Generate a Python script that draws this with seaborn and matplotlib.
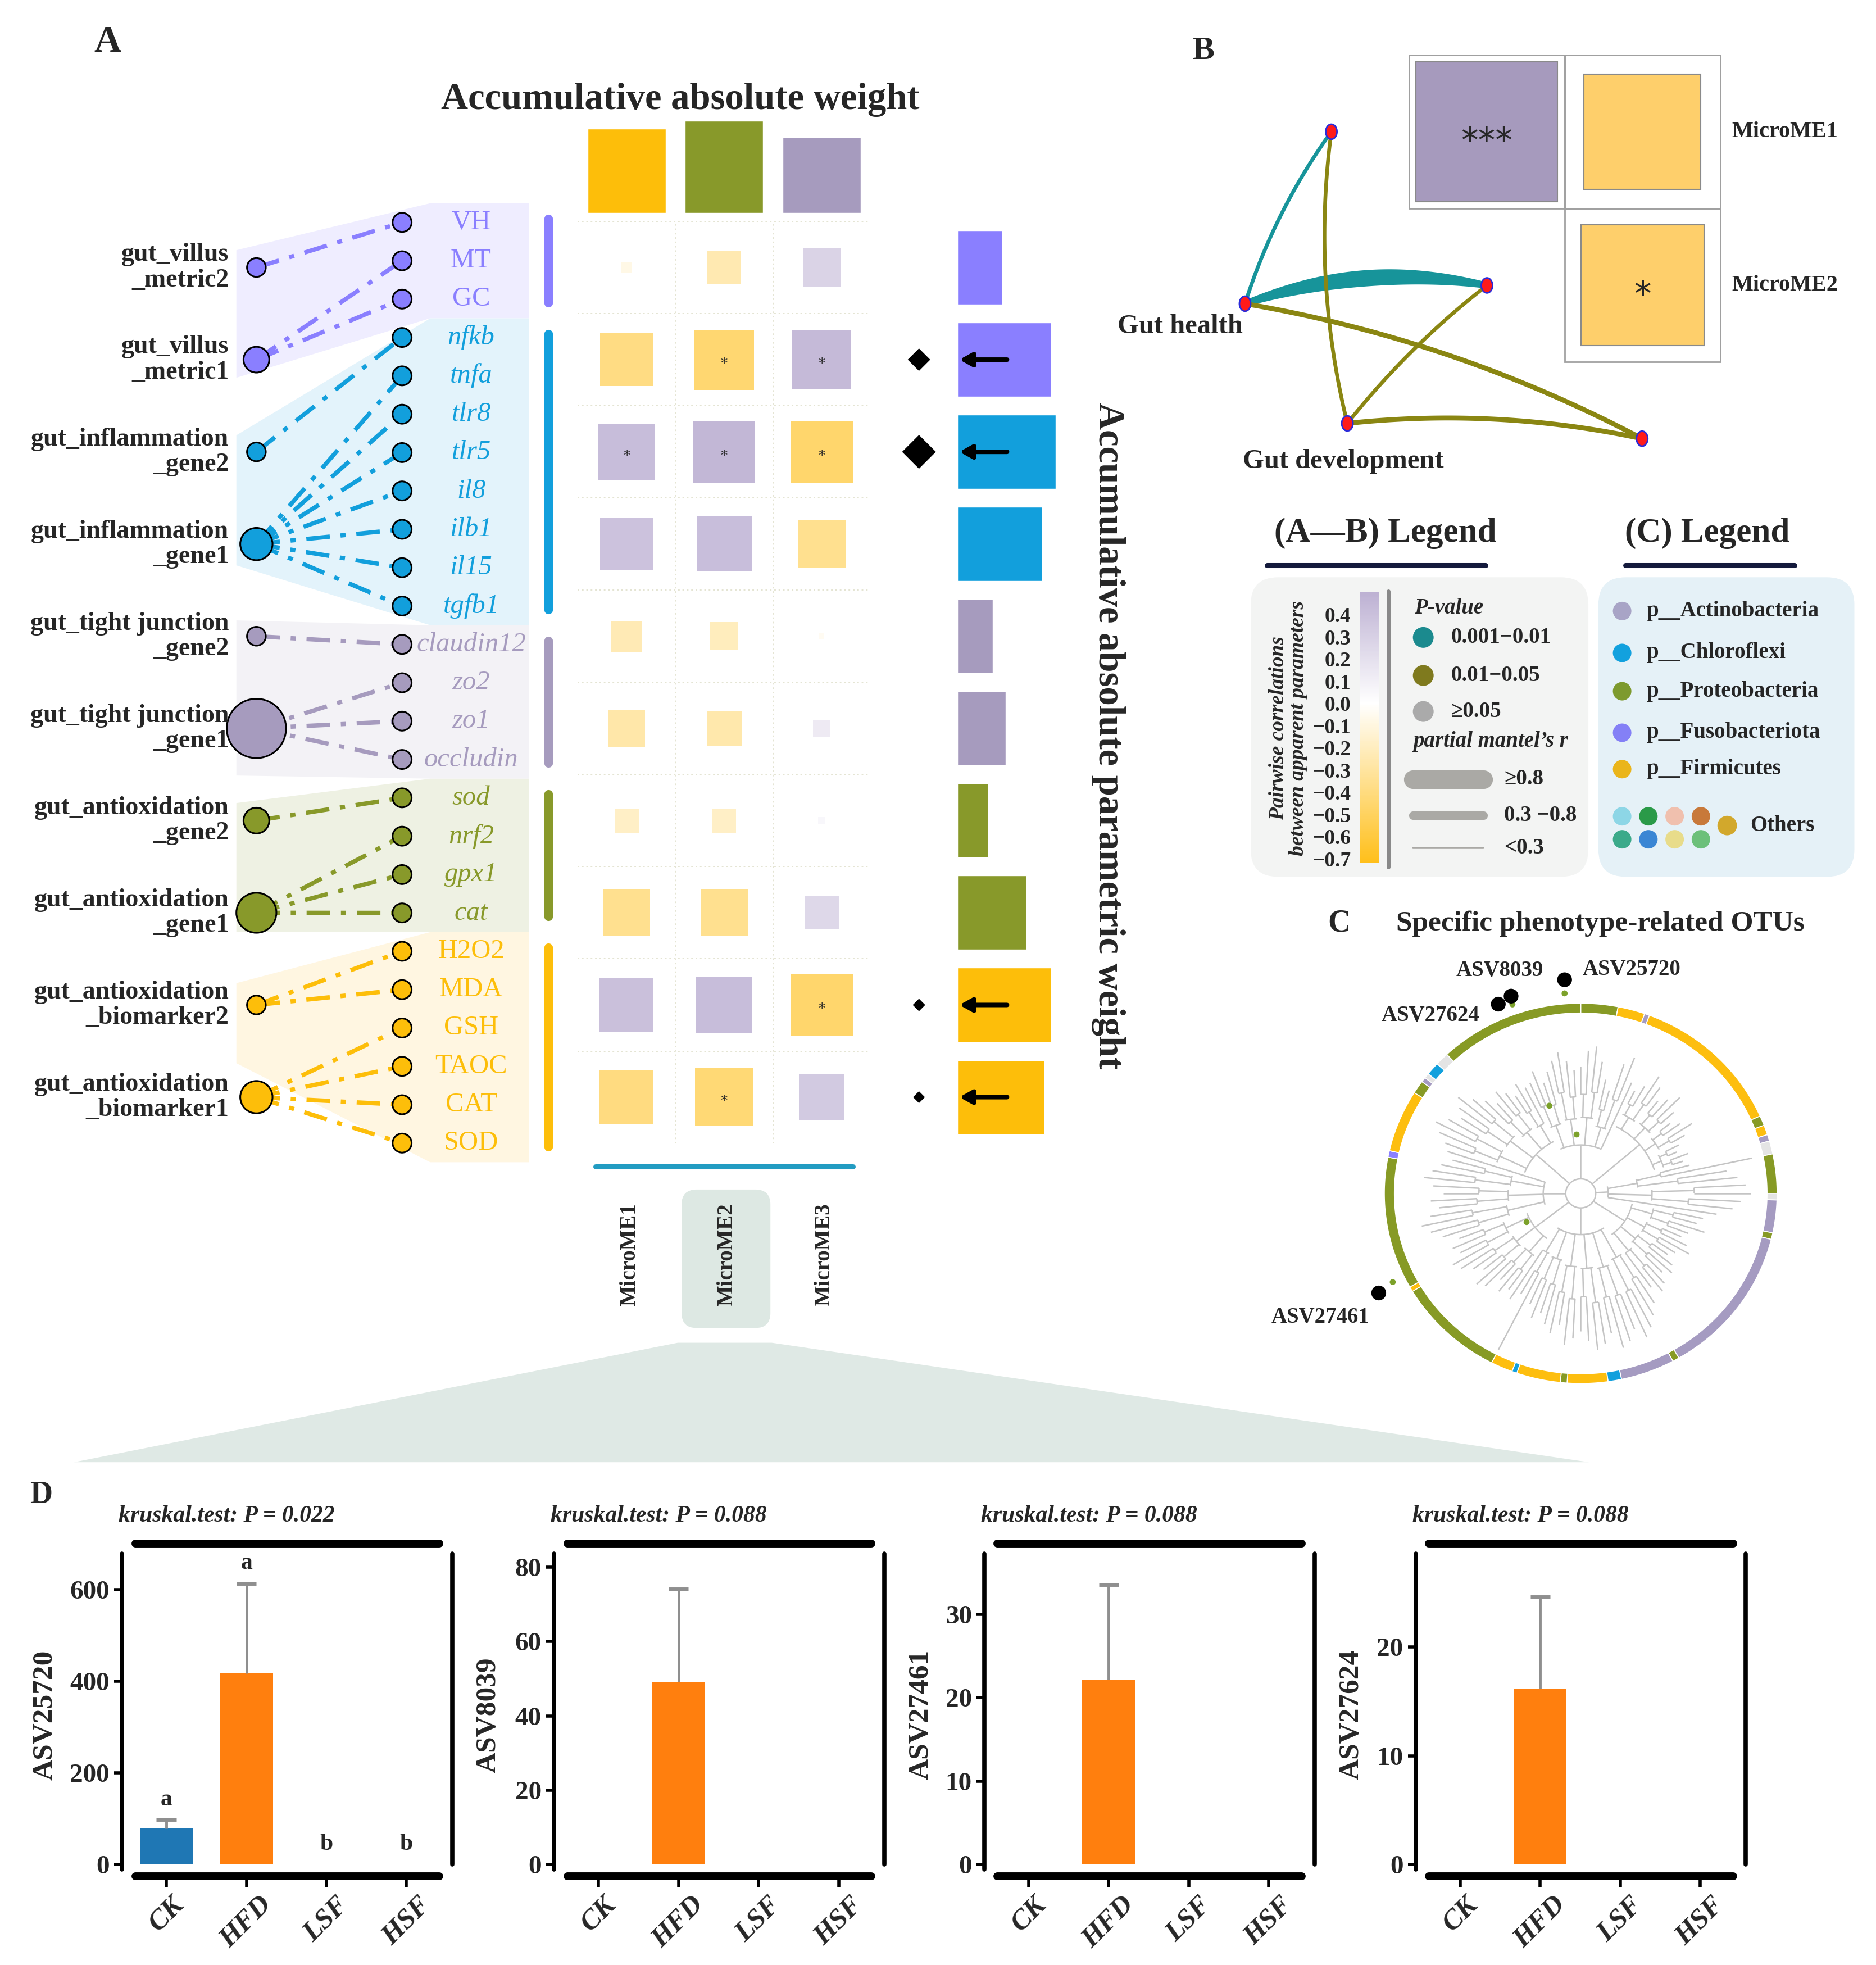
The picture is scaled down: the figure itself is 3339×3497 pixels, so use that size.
import matplotlib
matplotlib.use("Agg")
import matplotlib.pyplot as plt
import numpy as np
import seaborn as sns
from matplotlib.cm import ScalarMappable
from matplotlib.collections import LineCollection
from matplotlib.colors import LinearSegmentedColormap, Normalize
from matplotlib.patches import Circle, Ellipse, FancyBboxPatch, Polygon, Rectangle

# ---------------- panel A data ----------------
left_labels = [
    "gut_villus\n_metric2", "gut_villus\n_metric1",
    "gut_inflammation\n_gene2", "gut_inflammation\n_gene1",
    "gut_tight junction\n_gene2", "gut_tight junction\n_gene1",
    "gut_antioxidation\n_gene2", "gut_antioxidation\n_gene1",
    "gut_antioxidation\n_biomarker2", "gut_antioxidation\n_biomarker1",
]
left_node_weight = [0.75, 1.03, 0.75, 1.29, 0.75, 2.37, 1.03, 1.60, 0.75, 1.29]

parameters = ["VH", "MT", "GC",
              "nfkb", "tnfa", "tlr8", "tlr5", "il8", "ilb1", "il15", "tgfb1",
              "claudin12", "zo2", "zo1", "occludin",
              "sod", "nrf2", "gpx1", "cat",
              "H2O2", "MDA", "GSH", "TAOC", "CAT", "SOD"]
italic_parameters = {"nfkb", "tnfa", "tlr8", "tlr5", "il8", "ilb1", "il15", "tgfb1",
                     "claudin12", "zo2", "zo1", "occludin", "sod", "nrf2", "gpx1", "cat"}
parameter_links = [
    ["VH"], ["MT", "GC"],
    ["nfkb"], ["tnfa", "tlr8", "tlr5", "il8", "ilb1", "il15", "tgfb1"],
    ["claudin12"], ["zo2", "zo1", "occludin"],
    ["sod"], ["nrf2", "gpx1", "cat"],
    ["H2O2", "MDA"], ["GSH", "TAOC", "CAT", "SOD"],
]
group_colors = ["#8A7FFF", "#129FDC", "#A69BBE", "#88992A", "#FDBE0A"]
group_shades = ["#EFEDFF", "#E3F3FB", "#F3F2F6", "#EEF1E3", "#FFF6E1"]

modules = ["MicroME1", "MicroME2", "MicroME3"]
me_corr = [
    [-0.08, -0.245, 0.28],
    [-0.39, -0.445, 0.44],
    [0.42, 0.46, -0.46],
    [0.39, 0.41, -0.35],
    [-0.23, -0.21, -0.04],
    [-0.27, -0.26, 0.13],
    [-0.18, -0.18, 0.05],
    [-0.35, -0.35, 0.25],
    [0.40, 0.42, -0.46],
    [-0.40, -0.43, 0.34],
]
me_sig = [
    ["", "", ""], ["", "*", "*"], ["*", "*", "*"], ["", "", ""], ["", "", ""],
    ["", "", ""], ["", "", ""], ["", "", ""], ["", "", "*"], ["", "*", ""],
]
module_weight = [6.74, 7.38, 6.10]
module_colors = ["#FDBE0A", "#88992A", "#A69BBE"]
row_weight = [3.56, 7.50, 7.82, 6.77, 2.83, 3.85, 2.45, 5.51, 7.47, 6.93]
row_mark = [0, 1.8, 2.7, 0, 0, 0, 0, 0, 1.0, 0.95]

cbar_ticks = [0.4, 0.3, 0.2, 0.1, 0.0, -0.1, -0.2, -0.3, -0.4, -0.5, -0.6, -0.7]

# ---------------- panel B data ----------------
b_node_xy = [(1064.5, 105.3), (995.5, 242.8), (1188.9, 228.2), (1077.3, 338.5), (1313.0, 350.7)]
b_edges = [  # (from, to, p-class, width class, bend)
    (1, 0, "0.001-0.01", "<0.3", 0.04),
    (1, 2, "0.001-0.01", ">=0.8", 0.067),
    (0, 3, "0.01-0.05", "<0.3", -0.047),
    (1, 4, "0.01-0.05", "0.3-0.8", 0.04),
    (2, 3, "0.01-0.05", "<0.3", -0.03),
    (3, 4, "0.01-0.05", "0.3-0.8", 0.04),
]
b_rows = ["MicroME1", "MicroME2"]
b_values = [[0.91, -0.75], [np.nan, -0.79]]
b_stars = [["***", ""], ["", "*"]]

# ---------------- panel C data ----------------
phyla = ["p__Actinobacteria", "p__Chloroflexi", "p__Proteobacteria", "p__Fusobacteriota", "p__Firmicutes"]
phyla_colors = ["#A8A4C6", "#12A1DE", "#7D9A2E", "#8480F6", "#EAB51B"]
other_colors = ["#8DD6E6", "#2A9A48", "#F0C0AE", "#C8793A", "#3BAA8A", "#3A86D4", "#E8DC8A", "#6CC07A"]
ring_start = [0, 11, 19, 20.5, 66, 69, 72, 74, 78, 90, 92, 102, 104, 150, 152, 168,
              172, 184, 186, 199, 200.5, 207, 239, 240.5, 281, 283, 302, 306, 307.5, 309, 313, 317]
ring_phylum = ["P", "F", "A", "F", "P", "F", "A", "O", "P", "O", "A", "P", "A", "P", "A", "C",
               "F", "P", "F", "C", "F", "P", "F", "P", "Fu", "F", "P", "A", "O", "C", "O", "P"]
ring_colors = {"A": "#A59BC1", "C": "#12A0DD", "P": "#879A25", "Fu": "#8A80FF", "F": "#FDBE0F", "O": "#E4E4E4"}
tree_tip_radius = [
    105, 118, 122, 110, 96, 88, 112, 120, 100,
    95, 102, 115, 108, 98, 104, 112, 100, 92, 98, 106, 96, 88, 84, 92, 86,
    90, 140, 118, 126, 132, 136, 128, 122, 110,
    100, 96, 104, 92, 88, 95, 100, 90, 86, 94, 98, 92, 100, 104, 96,
    108, 116, 124, 130, 120, 128, 132, 118, 126, 130, 122, 114, 120, 126, 110, 118, 112, 104, 110, 100, 145, 96, 104,
    98, 104, 96, 108, 112, 100, 106, 114, 118, 108, 112, 104,
    116, 124, 130, 122, 114, 120, 110, 118, 126, 120, 114, 106, 112,
    116, 124, 130, 122, 114, 120, 126, 116, 108, 100, 108, 102, 96, 104, 98,
    100, 108, 96, 104, 112, 118, 110, 102,
]
tree_clades = [(112, 17, 40), (9, 16, 62), (25, 9, 22), (34, 15, 42),
               (49, 23, 34), (72, 12, 46), (84, 13, 30), (97, 15, 48)]
asv_marks = ["ASV25720", "ASV8039", "ASV27624", "ASV27461"]

# ---------------- panel D data ----------------
groups = ["CK", "HFD", "LSF", "HSF"]
asv_names = ["ASV25720", "ASV8039", "ASV27461", "ASV27624"]
asv_mean = [[78, 417, 0, 0], [0, 49.2, 0, 0], [0, 22.2, 0, 0], [0, 16.2, 0, 0]]
asv_sd = [[20, 197, 0, 0], [0, 24.9, 0, 0], [0, 11.4, 0, 0], [0, 8.4, 0, 0]]
asv_p = ["0.022", "0.088", "0.088", "0.088"]
asv_letters = [["a", "a", "b", "b"], None, None, None]
asv_ytop = [679, 83.7, 37.3, 28.6]
asv_yticks = [[0, 200, 400, 600], [0, 20, 40, 60, 80], [0, 10, 20, 30], [0, 10, 20]]

# ---------------- figure ----------------
sns.set_theme(style="white")
plt.rcParams["font.family"] = ["Liberation Serif", "DejaVu Serif"]
plt.rcParams["axes.unicode_minus"] = True

W_PX, H_PX = 3339, 3497
SCALE = W_PX / 1500.0
XMAX, YMAX = 1500.0, H_PX / SCALE

fig = plt.figure(figsize=(W_PX / 100, H_PX / 100), dpi=100, facecolor="white")
base = fig.add_axes([0, 0, 1, 1])
base.set_xlim(0, XMAX)
base.set_ylim(YMAX, 0)
base.axis("off")


def inset(x0, y0, x1, y1):
    ax = fig.add_axes([x0 / XMAX, 1 - y1 / YMAX, (x1 - x0) / XMAX, (y1 - y0) / YMAX])
    ax.set_facecolor("none")
    return ax


def bezier(p0, p1, bend, n=80):
    p0, p1 = np.asarray(p0, float), np.asarray(p1, float)
    d = p1 - p0
    length = np.hypot(*d)
    nrm = np.array([d[1], -d[0]]) / length
    ctrl = (p0 + p1) / 2 + 2 * bend * length * nrm
    t = np.linspace(0, 1, n)[:, None]
    return (1 - t) ** 2 * p0 + 2 * (1 - t) * t * ctrl + t ** 2 * p1


BOLD = dict(fontweight="bold")

# ======== panel A ========
base.text(86, 34, "A", fontsize=48, ha="center", va="center", **BOLD)
base.text(544, 87, "Accumulative absolute weight", fontsize=48, ha="center", va="baseline", **BOLD)

ROW_TOP, ROW_H = 177.0, 73.7
row_y = ROW_TOP + (np.arange(len(left_labels)) + 0.5) * ROW_H
par_y = 177.8 + np.arange(len(parameters)) * 30.67
par_index = {p: i for i, p in enumerate(parameters)}
row_group = np.arange(len(left_labels)) // 2
par_group = {}
for r, names in enumerate(parameter_links):
    for n in names:
        par_group[n] = row_group[r]

left_span = [(200, 302), (348, 452), (496, 620), (642, 745), (786, 850)]
for g in range(5):
    members = [par_index[p] for p in parameters if par_group[p] == g]
    y0, y1 = par_y[min(members)] - 15.3, par_y[max(members)] + 15.3
    l0, l1 = left_span[g]
    base.add_patch(Polygon([(189, l0), (344, y0), (423, y0), (423, y1), (344, y1), (189, l1)],
                           closed=True, fc=group_shades[g], ec="none", zorder=1))
    base.plot([438.4, 438.4], [par_y[min(members)] - 3, par_y[max(members)] + 3],
              color=group_colors[g], lw=11, solid_capstyle="round", zorder=2)

for r, names in enumerate(parameter_links):
    col = group_colors[row_group[r]]
    for n in names:
        base.plot([205, 321.5], [row_y[r], par_y[par_index[n]]], color=col, lw=5.5,
                  dashes=(5.5, 2.5, 1.2, 2.5), dash_capstyle="butt", zorder=2)
    base.add_patch(Circle((205, row_y[r]), left_node_weight[r] * 10, fc=col, ec="black", lw=2.2, zorder=3))
    base.text(183, row_y[r], left_labels[r], ha="right", va="center", multialignment="right",
              fontsize=33, linespacing=1.1, zorder=4, **BOLD)

for p in parameters:
    i = par_index[p]
    col = group_colors[par_group[p]]
    base.add_patch(Circle((321.5, par_y[i]), 7.6, fc=col, ec="black", lw=2.2, zorder=3))
    base.text(376.7, par_y[i], p, ha="center", va="center", fontsize=35, color=col,
              style="italic" if p in italic_parameters else "normal", zorder=4)

cmap = LinearSegmentedColormap.from_list(
    "corr", [(0.0, "#FFBF1A"), (0.72 / 1.22, "#FFFFFF"), (1.0, "#BDB1D3")])
norm = Normalize(-0.72, 0.5)

hm = inset(462, 177, 696, 914)
hm.set_xlim(0, 3)
hm.set_ylim(10, 0)
hm.axis("off")
for k in range(4):
    hm.axvline(k, color="#E4E4D2", lw=1.4, ls=(0, (1.5, 2.5)))
for k in range(11):
    hm.axhline(k, color="#E4E4D2", lw=1.4, ls=(0, (1.5, 2.5)))
CELL_W, CELL_H = 78.0, 73.7
for i in range(10):
    for j in range(3):
        r = me_corr[i][j]
        side = abs(r) * 108
        w, h = side / CELL_W, side / CELL_H
        hm.add_patch(Rectangle((j + 0.5 - w / 2, i + 0.5 - h / 2), w, h, fc=cmap(norm(r)), ec="none"))
        if me_sig[i][j]:
            hm.text(j + 0.5, i + 0.5 + 0.085, me_sig[i][j], ha="center", va="baseline",
                    fontsize=18, family="DejaVu Sans")

tb = inset(462, 90, 696, 170.4)
tb.set_xlim(0, 3)
tb.set_ylim(0, 8.04)
tb.axis("off")
tb.bar(np.arange(3) + 0.5, module_weight, width=0.8, color=module_colors)

rb = inset(765.7, 177, 865.7, 914)
rb.set_xlim(0, 10)
rb.set_ylim(10, 0)
rb.axis("off")
rb.barh(np.arange(10) + 0.5, row_weight, height=0.805, color=[group_colors[g] for g in row_group])
for i, m in enumerate(row_mark):
    if m > 0:
        rb.annotate("", xy=(0.15, i + 0.5), xytext=(3.95, i + 0.5),
                    arrowprops=dict(arrowstyle="-|>,head_length=0.8,head_width=0.45", color="black",
                                    lw=5.8, shrinkA=0, shrinkB=0, mutation_scale=16))
        d = m * 10 / 2
        base.add_patch(Polygon([(734.8, row_y[i] - d), (734.8 + d, row_y[i]), (734.8, row_y[i] + d),
                                (734.8 - d, row_y[i])], closed=True, fc="black", ec="none", zorder=3))

base.text(886, 588, "Accumulative absolute parametric weight", rotation=-90, fontsize=48,
          ha="center", va="center", **BOLD)

base.add_patch(FancyBboxPatch((545, 951), 71, 110.7, boxstyle="round,pad=0,rounding_size=12",
                              fc="#DDE8E3", ec="none", zorder=1))
for j, name in enumerate(modules):
    base.text(503.4 + j * 77.8, 1003, name, rotation=90, fontsize=28, ha="center", va="center",
              zorder=4, **BOLD)
base.plot([476, 682], [932.5, 932.5], color="#229CC2", lw=6.5, solid_capstyle="round", zorder=2)
base.add_patch(Polygon([(542, 1073.5), (617, 1073.5), (1270.4, 1169), (59.3, 1169)], closed=True,
                       fc="#DFE9E5", ec="none", zorder=1))

# ======== panel B ========
base.text(962, 41, "B", fontsize=42, ha="center", va="center", **BOLD)
p_color = {"0.001-0.01": "#17949A", "0.01-0.05": "#8A8612"}
w_class = {"<0.3": 4.8, "0.3-0.8": 6.3, ">=0.8": 0.0}
for a, b, pc, wc, bend in b_edges:
    pts = bezier(b_node_xy[a], b_node_xy[b], bend)
    if wc == ">=0.8":
        t = np.linspace(0, 1, len(pts))
        half = (5 + 8 * np.sin(np.pi * t)) / 2
        tang = np.gradient(pts, axis=0)
        tang /= np.hypot(tang[:, 0], tang[:, 1])[:, None]
        nrm = np.column_stack([-tang[:, 1], tang[:, 0]])
        shape = np.vstack([pts + nrm * half[:, None], (pts - nrm * half[:, None])[::-1]])
        base.add_patch(Polygon(shape, closed=True, fc=p_color[pc], ec="none", zorder=2))
    else:
        base.plot(pts[:, 0], pts[:, 1], color=p_color[pc], lw=w_class[wc], solid_capstyle="round", zorder=2)
for x, y in b_node_xy:
    base.add_patch(Ellipse((x, y), 9, 12, fc="#FF1A1A", ec="#2B2BD9", lw=2, zorder=3))
base.text(943.5, 261, "Gut health", fontsize=35, ha="center", va="center", **BOLD)
base.text(1073.8, 369, "Gut development", fontsize=35, ha="center", va="center", **BOLD)

B_X0, B_Y0, B_CW, B_CH = 1126.7, 43.9, 124.35, 122.7
for i in range(2):
    for j in range(2):
        v = b_values[i][j]
        if np.isnan(v):
            continue
        x0, y0 = B_X0 + j * B_CW, B_Y0 + i * B_CH
        base.add_patch(Rectangle((x0, y0), B_CW, B_CH, fc="none", ec="#A0A0A0", lw=2, zorder=2))
        sw, sh = abs(v) * B_CW, abs(v) * B_CH
        base.add_patch(Rectangle((x0 + (B_CW - sw) / 2, y0 + (B_CH - sh) / 2), sw, sh,
                                 fc="#A69ABD" if v > 0 else "#FECF6B", ec="#8A8A8A", lw=1.5, zorder=3))
        if b_stars[i][j]:
            base.text(x0 + B_CW / 2, y0 + B_CH / 2 + 16, b_stars[i][j], fontsize=44, ha="center",
                      va="baseline", family="DejaVu Sans", zorder=4)
for i, name in enumerate(b_rows):
    base.text(1384.7, B_Y0 + (i + 0.5) * B_CH, name, fontsize=29, ha="left", va="center", **BOLD)

# ======== legends ========
base.text(1107.6, 426.5, "(A\u2014B) Legend", fontsize=44, ha="center", va="center", **BOLD)
base.plot([1013, 1188], [451.8, 451.8], color="#141A3C", lw=6.5, solid_capstyle="round")
base.add_patch(FancyBboxPatch((1000, 461.5), 270, 239.5, boxstyle="round,pad=0,rounding_size=22",
                              fc="#F3F4F3", ec="none", zorder=1))
base.text(1030, 582, "Pairwise correlations\nbetween apparent parameters", rotation=90, fontsize=27,
          style="italic", ha="center", va="center", linespacing=1.0, **BOLD)
cax = inset(1087, 473.5, 1103, 690)
cb = fig.colorbar(ScalarMappable(norm=norm, cmap=cmap), cax=cax)
cb.outline.set_visible(False)
cb.set_ticks(cbar_ticks)
cb.set_ticklabels([f"{t:.1f}".replace("-", "\u2212") for t in cbar_ticks])
cax.yaxis.set_ticks_position("left")
cax.tick_params(axis="y", direction="in", color="white", length=9, width=2.5, labelsize=27, pad=11)
for lab in cax.get_yticklabels():
    lab.set_fontweight("bold")
base.plot([1110, 1110], [472.5, 693], color="#888888", lw=5, zorder=2)

base.text(1130.7, 486.5, "P-value", fontsize=28, style="italic", ha="left", va="center", **BOLD)
for y, pc, lab in [(509.6, "#1B8A8E", "0.001\u22120.01"), (540, "#7F7A1E", "0.01\u22120.05"),
                   (568.8, "#AAAAAA", "\u22650.05")]:
    base.add_patch(Circle((1138, y), 8.3, fc=pc, ec="none", zorder=3))
    base.text(1160, y, lab, fontsize=28, ha="left", va="center", **BOLD)
base.text(1130, 592.8, "partial mantel\u2019s r", fontsize=28, style="italic", ha="left", va="center", **BOLD)
for y, lw, lab in [(622.9, 24, "\u22650.8"), (652, 11, "0.3 \u22120.8"), (678, 2.6, "<0.3")]:
    base.plot([1130, 1186], [y, y], color="#AAA9A5", lw=lw, solid_capstyle="round", zorder=3)
    base.text(1202.6, y, lab, fontsize=28, ha="left", va="center", **BOLD)

base.text(1365, 426.5, "(C) Legend", fontsize=44, ha="center", va="center", **BOLD)
base.plot([1299.6, 1435], [451.8, 451.8], color="#141A3C", lw=6.5, solid_capstyle="round")
base.add_patch(FancyBboxPatch((1278, 461.5), 204.7, 239.5, boxstyle="round,pad=0,rounding_size=22",
                              fc="#E5F1F7", ec="none", zorder=1))
for y, name, col in zip([488.5, 522, 552.6, 585.8, 614.9], phyla, phyla_colors):
    base.add_patch(Circle((1297, y), 7.4, fc=col, ec="none", zorder=3))
    base.text(1316.3, y, name, fontsize=28, ha="left", va="center", **BOLD)
for k, col in enumerate(other_colors):
    base.add_patch(Circle((1297 + (k % 4) * 21, 652.6 + (k // 4) * 18.4), 7.4, fc=col, ec="none", zorder=3))
base.add_patch(Circle((1381, 660), 7.8, fc="#D2A82C", ec="none", zorder=3))
base.text(1399.6, 660, "Others", fontsize=28, ha="left", va="center", **BOLD)

# ======== panel C ========
base.text(1070.7, 738.4, "C", fontsize=40, ha="center", va="center", **BOLD)
base.text(1279.7, 738.4, "Specific phenotype-related OTUs", fontsize=37, ha="center", va="center", **BOLD)
CX, CY, KY = 1263.9, 954.1, 0.968


def polar(r, a):
    a = np.radians(a)
    return CX + r * np.sin(a), CY - r * np.cos(a) * KY


ring_end = ring_start[1:] + [360]
for a0, a1, ph in zip(ring_start, ring_end, ring_phylum):
    t = np.linspace(a0, a1, max(4, int((a1 - a0) * 2)))
    ox, oy = polar(157, t)
    ix, iy = polar(149, t[::-1])
    base.add_patch(Polygon(np.column_stack([np.r_[ox, ix], np.r_[oy, iy]]), closed=True,
                           fc=ring_colors[ph], ec="white", lw=1.2, zorder=2))

segs = []


def arc(r, a0, a1):
    t = np.linspace(a0, a1, max(3, int(abs(a1 - a0) * 1.5)))
    x, y = polar(r, t)
    segs.append(np.column_stack([x, y]))


def radial(r0, r1, a):
    x, y = polar(np.array([r0, r1]), a)
    segs.append(np.column_stack([x, y]))


n_tips = len(tree_tip_radius)
arc(12, 0, 360)
for first, count, r_base in tree_clades:
    idx = np.arange(first, first + count)
    ang = idx * 3.0
    tips = np.array([tree_tip_radius[k % n_tips] for k in idx])
    radial(12, r_base, ang.mean())
    arc(r_base, ang[0], ang[-1])
    for s in range(0, count, 4):
        sa, st = ang[s:s + 4], tips[s:s + 4]
        r_sub = r_base + 0.35 * (st.min() - r_base)
        radial(r_base, r_sub, sa.mean())
        if len(sa) > 1:
            arc(r_sub, sa[0], sa[-1])
        for p in range(0, len(sa), 2):
            pa, pt = sa[p:p + 2], st[p:p + 2]
            r_pair = r_sub + 0.45 * (pt.min() - r_sub)
            radial(r_sub, r_pair, pa.mean())
            if len(pa) > 1:
                arc(r_pair, pa[0], pa[-1])
            for a, rt in zip(pa, pt):
                radial(r_pair, rt, a)
base.add_collection(LineCollection(segs, colors="#C4C4C4", linewidths=1.8, zorder=2))

for x, y in [(1251, 794.2), (1209.3, 803), (1113.6, 1025), (1238.8, 884), (1260.6, 907), (1220.6, 977)]:
    base.add_patch(Circle((x, y), 2.4, fc="#7CA12A", ec="none", zorder=3))
for (x, y), name, (tx, ty) in zip([(1251, 783.3), (1208.2, 796.4), (1198, 802.8), (1102.4, 1033.7)],
                                  asv_marks,
                                  [(1304.7, 775), (1199.3, 776), (1143.9, 811.9), (1055.9, 1053.4)]):
    base.add_patch(Circle((x, y), 5.9, fc="black", ec="none", zorder=4))
    base.text(tx, ty, name, fontsize=28, ha="center", va="center", zorder=5, **BOLD)

# ======== panel D ========
base.text(33, 1195.5, "D", fontsize=40, ha="center", va="center", **BOLD)
palette = sns.color_palette("tab10", len(groups))
panel_left = [97.5, 443, 787, 1132]
label_x = [-51, -42, -40, -41]
for k, name in enumerate(asv_names):
    ax = inset(panel_left[k], 1242, panel_left[k] + 264, 1500)
    mean = np.array(asv_mean[k], float)
    sd = np.array(asv_sd[k], float)
    sns.barplot(x=groups, y=mean, hue=groups, palette=palette, legend=False, saturation=1,
                width=0.66, errorbar=None, linewidth=0, ax=ax)
    xs = np.arange(len(groups))
    up = sd > 0
    ax.vlines(xs[up], mean[up], mean[up] + sd[up], color="#8F8F8F", lw=3.5, zorder=1)
    ax.hlines(mean[up] + sd[up], xs[up] - 0.125, xs[up] + 0.125, color="#8F8F8F", lw=5, zorder=1)
    ytop = asv_ytop[k]
    if asv_letters[k]:
        for x, lab in enumerate(asv_letters[k]):
            ax.text(x, mean[x] + sd[x] + 0.03 * ytop, lab, ha="center", va="bottom", fontsize=30, **BOLD)
    ax.set_xlim(-0.555, 3.57)
    ax.set_ylim(-0.038 * ytop, ytop)
    ax.set_yticks(asv_yticks[k])
    ax.spines["bottom"].set_bounds(-0.39, 3.41)
    ax.spines["top"].set_bounds(-0.39, 3.41)
    ax.spines["top"].set_position(("outward", 12.8))
    for side in ["bottom", "top"]:
        ax.spines[side].set_linewidth(10)
        ax.spines[side].set_capstyle("round")
        ax.spines[side].set_color("black")
    ax.spines["left"].set_bounds(-0.016 * ytop, ytop)
    ax.spines["right"].set_bounds(0, ytop)
    for side in ["left", "right"]:
        ax.spines[side].set_linewidth(5.5)
        ax.spines[side].set_capstyle("round")
        ax.spines[side].set_color("black")
    ax.tick_params(axis="x", bottom=True, length=14, width=4, pad=6, labelsize=36, color="black")
    ax.tick_params(axis="y", left=True, length=10, width=4, pad=6, labelsize=34, color="black")
    for lab in ax.get_xticklabels():
        lab.set_rotation(45)
        lab.set_ha("center")
        lab.set_va("top")
        lab.set_fontweight("bold")
        lab.set_fontstyle("italic")
    for lab in ax.get_yticklabels():
        lab.set_fontweight("bold")
    ax.set_xlabel("")
    ax.set_ylabel(name, fontsize=37, fontweight="bold")
    ax.yaxis.set_label_coords(label_x[k] / 264, 0.5)
    ax.text(-0.01, 1.116, f"kruskal.test: P = {asv_p[k]}", transform=ax.transAxes, fontsize=30,
            style="italic", ha="left", va="center", **BOLD)

fig.savefig("out.png", dpi=100, facecolor="white")
